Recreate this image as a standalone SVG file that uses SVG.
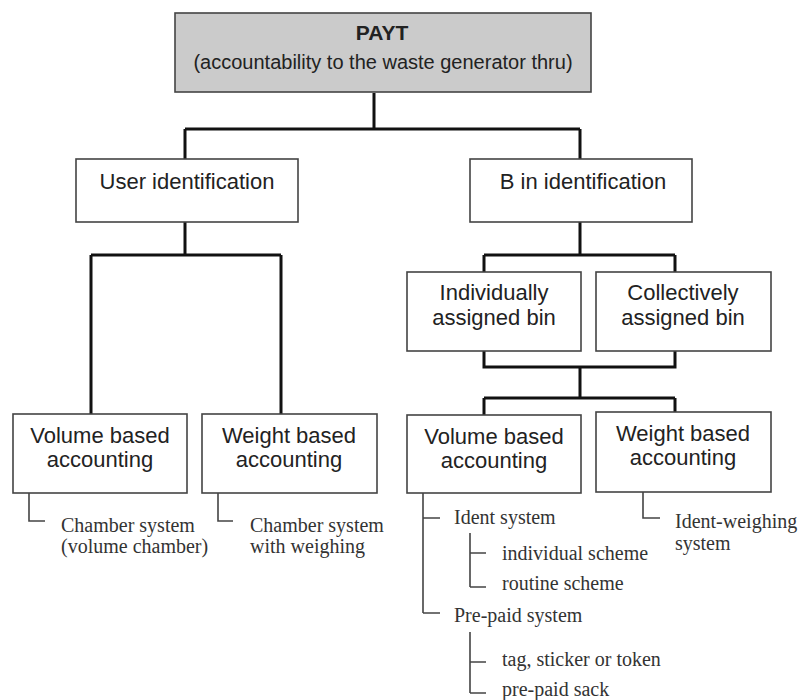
<svg xmlns="http://www.w3.org/2000/svg" width="799" height="700" viewBox="0 0 799 700">
<style>
.box{fill:#fff;stroke:#444;stroke-width:1.6}
.top{fill:#cbcbcb;stroke:#444;stroke-width:1.6}
.t{font-family:"Liberation Sans",Arial,sans-serif;font-size:22px;fill:#222;text-anchor:middle}
.s{font-family:"Liberation Serif","Times New Roman",serif;font-size:20px;fill:#333}
.c{fill:none;stroke:#111;stroke-width:3}
.b{fill:none;stroke:#444;stroke-width:1.6}
</style>
<rect width="799" height="700" fill="#fff"/>
<g id="connectors">
<path class="c" d="M374 93V129M185 129H580M185 129V159M580 129V159"/>
<path class="c" d="M185 222V255M91 255H281M91 255V414M281 255V414"/>
<path class="c" d="M580 222V255M484 255H675M484 255V272M675 255V272"/>
<path class="c" d="M484 351V367H675V351M580 367V398M484 398H675M484 398V415M675 398V412"/>
<path class="b" d="M29 493V521H45M218 493V521H233"/>
<path class="b" d="M423 493V613M423 518H440M423 613H440M470 533V587M470 553H486M470 587H486M470 632V693M470 662H486M470 693H486"/>
<path class="b" d="M643 492V518H660"/>
</g>
<g id="payt">
<rect class="top" x="175" y="13" width="416" height="79"/>
<text class="t" x="382" y="40" style="font-weight:bold;font-size:21px">PAYT</text>
<text class="t" x="383" y="69" style="font-size:20px">(accountability to the waste generator thru)</text>
</g>
<g id="user-id">
<rect class="box" x="76" y="159" width="222" height="63"/>
<text class="t" x="187" y="189">User identification</text>
</g>
<g id="bin-id">
<rect class="box" x="470" y="159" width="222" height="63"/>
<text class="t" x="583" y="189">B in identification</text>
</g>
<g id="indiv-bin">
<rect class="box" x="407" y="272" width="174" height="79"/>
<text class="t" x="494" y="300">Individually</text>
<text class="t" x="494" y="325">assigned bin</text>
</g>
<g id="coll-bin">
<rect class="box" x="596" y="272" width="175" height="79"/>
<text class="t" x="683" y="300">Collectively</text>
<text class="t" x="683" y="325">assigned bin</text>
</g>
<g id="vol-left">
<rect class="box" x="13" y="414" width="174" height="79"/>
<text class="t" x="100" y="443">Volume based</text>
<text class="t" x="100" y="467">accounting</text>
</g>
<g id="wt-left">
<rect class="box" x="202" y="414" width="175" height="79"/>
<text class="t" x="289" y="443">Weight based</text>
<text class="t" x="289" y="467">accounting</text>
</g>
<g id="vol-right">
<rect class="box" x="407" y="415" width="174" height="78"/>
<text class="t" x="494" y="444">Volume based</text>
<text class="t" x="494" y="468">accounting</text>
</g>
<g id="wt-right">
<rect class="box" x="596" y="412" width="175" height="80"/>
<text class="t" x="683" y="441">Weight based</text>
<text class="t" x="683" y="465">accounting</text>
</g>
<g id="leaf-chamber-vol">
<text class="s" x="61" y="532">Chamber system</text>
<text class="s" x="61" y="553">(volume chamber)</text>
</g>
<g id="leaf-chamber-wt">
<text class="s" x="250" y="532">Chamber system</text>
<text class="s" x="250" y="553">with weighing</text>
</g>
<g id="leaf-ident-weighing">
<text class="s" x="675" y="528">Ident-weighing</text>
<text class="s" x="675" y="550">system</text>
</g>
<g id="leaf-ident">
<text class="s" x="454" y="524">Ident system</text>
<text class="s" x="502" y="560">individual scheme</text>
<text class="s" x="502" y="590">routine scheme</text>
</g>
<g id="leaf-prepaid">
<text class="s" x="454" y="622">Pre-paid system</text>
<text class="s" x="502" y="666">tag, sticker or token</text>
<text class="s" x="502" y="696">pre-paid sack</text>
</g>
</svg>
